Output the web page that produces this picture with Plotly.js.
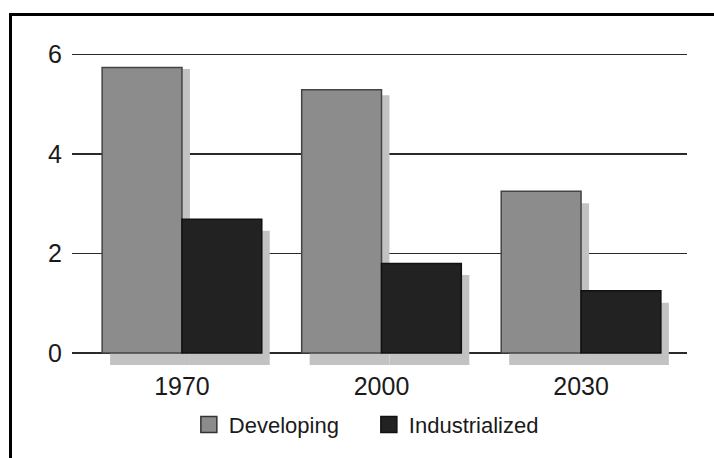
<!DOCTYPE html>
<html>
<head>
<meta charset="utf-8">
<script src="https://cdn.plot.ly/plotly-3.0.1.min.js"></script>
<style>
  html, body { margin: 0; padding: 0; background: #fff; overflow: hidden; }
  #plot { width: 714px; height: 458px; }
  #frame { position: absolute; left: 9px; top: 13px; width: 800px; height: 600px;
           border-left: 3px solid #000; border-top: 3px solid #000; pointer-events: none; }
</style>
</head>
<body>
<div id="plot"></div>
<div id="frame"></div>
<script>
// values
const years = ['1970', '2000', '2030'];
const developing = [5.74, 5.29, 3.25];
const industrialized = [2.69, 1.80, 1.25];
// tops of the grey drop shadows behind each bar
const developingShadow = [5.71, 5.18, 3.01];
const industrializedShadow = [2.46, 1.57, 1.01];
const shadowBase = -0.24;
const yTicks = [0, 2, 4, 6];

const shadowColor = '#c2c2c2';

function shadowTrace(tops, offset) {
    return {
        x: years,
        y: tops.map(v => v - shadowBase),
        base: shadowBase,
        type: 'bar',
        offset: offset,
        width: 0.4,
        marker: { color: shadowColor, line: { width: 0 } },
        showlegend: false,
        hoverinfo: 'skip'
    };
}

var devShadow = shadowTrace(developingShadow, -0.36);
var indShadow = shadowTrace(industrializedShadow, 0.04);

var devBars = {
    x: years,
    y: developing,
    type: 'bar',
    name: 'Developing',
    offset: -0.4,
    width: 0.4,
    marker: { color: '#8c8c8c', line: { color: '#444', width: 1.5 } },
    showlegend: false
};

var indBars = {
    x: years,
    y: industrialized,
    type: 'bar',
    name: 'Industrialized',
    offset: 0,
    width: 0.4,
    marker: { color: '#222222', line: { color: '#111', width: 1.5 } },
    showlegend: false
};

// legend entries with bigger squares than bar swatches allow
var devKey = {
    x: [null], y: [null], type: 'scatter', mode: 'markers', name: 'Developing',
    marker: { symbol: 'square', size: 16, color: '#8c8c8c', line: { color: '#333', width: 1.5 } }
};
var indKey = {
    x: [null], y: [null], type: 'scatter', mode: 'markers', name: 'Industrialized',
    marker: { symbol: 'square', size: 16, color: '#222222', line: { color: '#111', width: 1.5 } }
};

var layout = {
    width: 714,
    height: 458,
    margin: { l: 72, r: 27, t: 52, b: 92 },
    paper_bgcolor: '#ffffff',
    plot_bgcolor: '#ffffff',
    font: { family: 'Liberation Sans, Arial, sans-serif', color: '#1a1a1a' },
    barmode: 'overlay',
    showlegend: true,
    legend: {
        orientation: 'h',
        x: 0.19, xanchor: 'left',
        y: -0.12, yanchor: 'top',
        font: { size: 22, color: '#1a1a1a' },
        itemwidth: 30,
        entrywidth: 135,
        traceorder: 'normal'
    },
    xaxis: {
        type: 'category',
        range: [-0.551, 2.531],
        showgrid: false,
        zeroline: false,
        showline: false,
        ticks: '',
        tickfont: { size: 25 },
        ticklabelstandoff: 3
    },
    yaxis: {
        range: [-0.26, 6.05],
        tickvals: yTicks,
        ticktext: yTicks.map(String),
        showgrid: true,
        gridcolor: '#2a2a2a',
        gridwidth: 1.5,
        zeroline: false,
        showline: false,
        ticks: '',
        tickfont: { size: 25 },
        ticklabelstandoff: 9
    }
};

Plotly.newPlot('plot', [devShadow, indShadow, devBars, indBars, devKey, indKey], layout, { displayModeBar: false, staticPlot: true });
</script>
</body>
</html>
